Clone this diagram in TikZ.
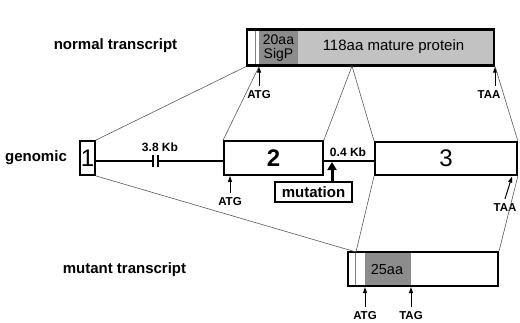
\documentclass[tikz,border=0pt]{standalone}
\usepackage{fontspec}
\setmainfont{Liberation Sans}
\usetikzlibrary{arrows.meta,positioning,calc,backgrounds}
\definecolor{sigpgray}{gray}{0.55}
\definecolor{maturegray}{gray}{0.76}
\definecolor{guidegray}{gray}{0.35}

\begin{document}
\begin{tikzpicture}[
  x=1pt, y=-1pt,
  >={Triangle[length=6pt,width=4pt]},
  every node/.style={inner sep=0pt},
  rowlabel/.style={font=\fontsize{15}{15}\selectfont\bfseries},
  tbox/.style={draw, line width=2.2pt},
  exon/.style={draw, line width=1.8pt, fill=white,
               font=\fontsize{24}{24}\selectfont},
  site/.style={font=\fontsize{11.5}{11.5}\selectfont\bfseries, inner ysep=5pt},
  kb/.style={font=\fontsize{12}{12}\selectfont\bfseries},
  mutbox/.style={draw, line width=1.6pt, minimum width=77, minimum height=20,
                 font=\fontsize{15}{15}\selectfont\bfseries},
  gline/.style={line width=1.8pt},
  guide/.style={guidegray, line width=0.6pt}
]
\useasboundingbox (0,0) rectangle (520,322);

%% row labels
\node[rowlabel] (lnormal) at (115.5,46) {normal transcript};
\node[rowlabel] (lgenomic) at (36,158) {genomic};
\node[rowlabel] (lmutant) at (124.5,270) {mutant transcript};

%% normal transcript
\node[tbox, minimum width=247, minimum height=36] (nt) at (370.5,47.5) {};
\begin{scope}[on background layer]
  \fill[maturegray] (259,30) rectangle (494,66);
  \fill[sigpgray] (259,30) rectangle (298,66);
  \draw[gray, line width=0.8pt] (255,30) -- (255,66);
\end{scope}
\node[font=\fontsize{14}{14.5}\selectfont, align=center] (sigp) at (278.5,48) {20aa\\SigP};
\node[font=\fontsize{15}{15}\selectfont] (mature) at (393.5,47) {118aa mature protein};
\node[site] (atgN) at (259,95) {ATG};
\node[site] (taaN) at (489,95) {TAA};
\draw[->, line width=1pt] (atgN.north) -- (atgN.north |- nt.south);
\draw[->, line width=1pt] (taaN.north -| nt.east) -- (nt.south east);

%% genomic
\node[exon, minimum width=15, minimum height=34] (ex1) at (87.5,158) {1};
\node[exon, minimum width=99, minimum height=34, font=\fontsize{24}{24}\selectfont\bfseries] (ex2) at (273.5,158) {2};
\node[exon, minimum width=142, minimum height=33] (ex3) at (446,158.5) {3};
\coordinate (brk) at (155.5,161);
\draw[gline] (ex1.east |- brk) -- ($(brk)+(-2.5,0)$);
\draw[gline] ($(brk)+(2.5,0)$) -- (ex2.west |- brk);
\draw[gline] ($(brk)+(-2.5,-6)$) -- ($(brk)+(-2.5,6)$);
\draw[gline] ($(brk)+(2.5,-6)$) -- ($(brk)+(2.5,6)$);
\draw[gline] (ex2.east |- brk) -- (ex3.west |- brk);
\node[kb] (kb38) at (160,147) {3.8 Kb};
\node[kb] (kb04) at (348,152) {0.4 Kb};

%% mutation
\coordinate (mutpt) at (332,162);
\node[mutbox] (mut) at (313.5,192) {mutation};
\draw[->, line width=3pt, >={Triangle[length=8pt,width=9pt]}] (mut.north -| mutpt) -- (mutpt);

\node[site] (atgG) at (230,202) {ATG};
\draw[->, line width=1pt] (atgG.north) -- (atgG.north |- ex2.south);
\node[site] (taaG) at (505,208) {TAA};
\coordinate (taaGpt) at (512,176.5);
\draw[->, line width=1pt] (taaG.north) -- (taaGpt);

%% mutant transcript
\node[tbox, minimum width=150, minimum height=34] (mt) at (423,269) {};
\begin{scope}[on background layer]
  \fill[sigpgray] (365,252) rectangle (411,286);
  \draw[gray, line width=0.8pt] (355.5,252) -- (355.5,286);
\end{scope}
\node[font=\fontsize{14.5}{14.5}\selectfont] (aa25) at (387,270) {25aa};
\node[site] (atgM) at (365,316) {ATG};
\node[site] (tagM) at (411,316) {TAG};
\draw[->, line width=1pt] (atgM.north) -- (atgM.north |- mt.south);
\draw[->, line width=1pt] (tagM.north) -- (tagM.north |- mt.south);

%% splice guides
\coordinate (splN) at (352,66);
\coordinate (splM) at (356,252);
\draw[guide] (ex1.north east) -- (nt.south west);
\draw[guide] (ex2.north west) -- (atgN.north |- nt.south);
\draw[guide] (ex2.north east) -- (splN) -- (ex3.north west);
\draw[guide] (ex3.north east) -- (nt.south east);
\draw[guide] (ex1.south east) -- (splM) -- (ex3.south west);
\draw[guide] (ex3.south east) -- (mt.north east);
\end{tikzpicture}
\end{document}
